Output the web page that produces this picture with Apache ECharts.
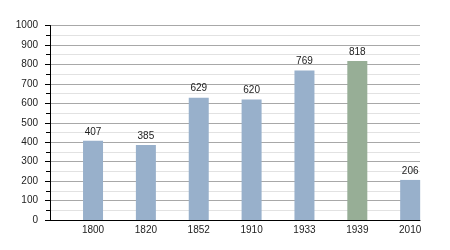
<!DOCTYPE html>
<html>
<head>
<meta charset="utf-8">
<script src="https://cdn.jsdelivr.net/npm/echarts@6/dist/echarts.min.js"></script>
<style>html,body{margin:0;padding:0;background:#fff}#c{width:450px;height:250px}</style>
</head>
<body>
<div id="c"></div>
<script>
var categories = ['1800', '1820', '1852', '1910', '1933', '1939', '2010'];
var values = [407, 385, 629, 620, 769, 818, 206];
var highlightCategory = '1939';
var yTicks = [0, 100, 200, 300, 400, 500, 600, 700, 800, 900, 1000];

var blue = '#98b0cb';
var green = '#97ae96';
var font = 'Liberation Sans, Arial, sans-serif';

var chart = echarts.init(document.getElementById('c'), null, {renderer: 'canvas'});
chart.setOption({
  animation: false,
  backgroundColor: '#fff',
  grid: [
    {left: 50, right: 30, top: 25.5, bottom: 30},
    {left: 66.6, right: 13.4, top: 25.5, bottom: 30}
  ],
  xAxis: [
    {type: 'category', gridIndex: 0, data: categories,
     axisLine: {show: true, lineStyle: {color: '#000', width: 1}},
     axisTick: {show: false}, axisLabel: {show: false}, splitLine: {show: false}},
    {type: 'category', gridIndex: 1, data: categories,
     axisLine: {show: false}, axisTick: {show: false},
     axisLabel: {color: '#222', fontSize: 10, fontFamily: font, margin: 5}}
  ],
  yAxis: [
    {type: 'value', gridIndex: 0, min: yTicks[0], max: yTicks[yTicks.length - 1], interval: 100,
     axisLine: {show: true, lineStyle: {color: '#000', width: 1}},
     axisTick: {show: true, length: 5, lineStyle: {color: '#000'}},
     minorTick: {show: true, splitNumber: 2, length: 4, lineStyle: {color: '#000'}},
     axisLabel: {color: '#222', fontSize: 10, fontFamily: font, margin: 12,
                 formatter: function (v) { return String(v); }},
     splitLine: {show: true, lineStyle: {color: '#a8a8a8', width: 1}},
     minorSplitLine: {show: true, lineStyle: {color: '#e2e2e2', width: 1}}},
    {type: 'value', gridIndex: 1, min: yTicks[0], max: yTicks[yTicks.length - 1], interval: 100,
     show: false, splitLine: {show: false}}
  ],
  series: [{
    type: 'bar', xAxisIndex: 1, yAxisIndex: 1,
    barWidth: 20,
    data: values.map(function (v, i) {
      return {value: v, itemStyle: {color: categories[i] === highlightCategory ? green : blue}};
    }),
    label: {show: true, position: 'top', distance: 4, color: '#222', fontSize: 10, fontFamily: font}
  }]
});
</script>
</body>
</html>
